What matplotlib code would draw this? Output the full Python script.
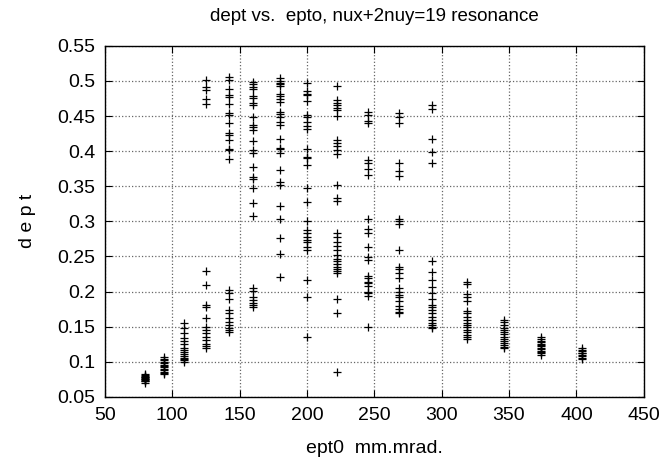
import numpy as np
import matplotlib
matplotlib.use("Agg")
import matplotlib.pyplot as plt

plt.rcParams['font.family'] = ['Liberation Sans', 'DejaVu Sans']

# ept0 columns and the dept values seen at each one
ept0 = [80, 94, 109, 125, 142, 160, 180, 200, 222, 245, 268, 293, 319, 346, 374, 404]
dept = [
    [0.070, 0.072, 0.073, 0.074, 0.075, 0.076, 0.077, 0.078, 0.079, 0.080, 0.081, 0.082],
    [0.082, 0.084, 0.086, 0.088, 0.090, 0.092, 0.094, 0.096, 0.098, 0.100, 0.102, 0.104, 0.107],
    [0.155, 0.148, 0.141, 0.134, 0.130, 0.125, 0.120, 0.117, 0.114, 0.111, 0.108, 0.106,
     0.104, 0.102, 0.100],
    [0.501, 0.491, 0.487, 0.474, 0.467,
     0.229, 0.209, 0.181, 0.178, 0.163, 0.150, 0.145, 0.141, 0.136, 0.131, 0.126, 0.122, 0.119],
    [0.505, 0.501, 0.489, 0.480, 0.477, 0.467, 0.454, 0.451, 0.440, 0.426, 0.423, 0.416,
     0.403, 0.401, 0.389,
     0.202, 0.198, 0.190, 0.174, 0.170, 0.162, 0.157, 0.152, 0.148, 0.145, 0.143],
    [0.499, 0.496, 0.492, 0.489, 0.478, 0.475, 0.468, 0.466, 0.448, 0.437, 0.435, 0.430,
     0.414, 0.401, 0.397, 0.378, 0.363, 0.360, 0.347, 0.326, 0.308,
     0.205, 0.201, 0.192, 0.188, 0.184, 0.181, 0.178],
    [0.504, 0.500, 0.497, 0.495, 0.493, 0.482, 0.479, 0.474, 0.470, 0.456, 0.453, 0.448,
     0.442, 0.437, 0.417, 0.405, 0.403, 0.397, 0.373, 0.356, 0.352, 0.322, 0.303, 0.277,
     0.254, 0.221],
    [0.497, 0.485, 0.482, 0.480, 0.472, 0.451, 0.449, 0.442, 0.436, 0.431, 0.403, 0.392,
     0.390, 0.380, 0.348, 0.327, 0.300, 0.288, 0.284, 0.278, 0.273, 0.270, 0.264, 0.259,
     0.217, 0.193, 0.135],
    [0.493, 0.473, 0.469, 0.466, 0.462, 0.458, 0.450, 0.416, 0.412, 0.407, 0.402, 0.396,
     0.352, 0.333, 0.329, 0.283, 0.278, 0.271, 0.265, 0.259, 0.252, 0.247, 0.243, 0.239,
     0.235, 0.232, 0.229, 0.226, 0.190, 0.170, 0.086],
    [0.456, 0.452, 0.443, 0.440, 0.388, 0.383, 0.375, 0.366,
     0.304, 0.289, 0.283, 0.263, 0.249, 0.245, 0.222, 0.219, 0.214, 0.212, 0.208, 0.200,
     0.198, 0.194, 0.149],
    [0.454, 0.448, 0.440, 0.383, 0.371, 0.365,
     0.304, 0.300, 0.296, 0.259, 0.235, 0.232, 0.227, 0.220, 0.205, 0.200, 0.195, 0.193,
     0.186, 0.179, 0.175, 0.171, 0.169],
    [0.465, 0.460, 0.417, 0.399, 0.383,
     0.243, 0.228, 0.217, 0.207, 0.198, 0.190, 0.181, 0.178, 0.174, 0.169, 0.164, 0.160,
     0.155, 0.152, 0.150, 0.148],
    [0.214, 0.211, 0.197, 0.193, 0.187, 0.172, 0.169, 0.164, 0.160, 0.155, 0.152, 0.150,
     0.145, 0.142, 0.138, 0.135, 0.132],
    [0.160, 0.156, 0.152, 0.148, 0.145, 0.142, 0.139, 0.136, 0.133, 0.130, 0.127, 0.124,
     0.121, 0.119],
    [0.136, 0.133, 0.130, 0.128, 0.126, 0.124, 0.122, 0.120, 0.118, 0.116, 0.114, 0.112, 0.110],
    [0.119, 0.117, 0.115, 0.113, 0.112, 0.110, 0.108, 0.106, 0.104],
]

xticks = [50, 100, 150, 200, 250, 300, 350, 400, 450]
yticks = [0.05, 0.1, 0.15, 0.2, 0.25, 0.3, 0.35, 0.4, 0.45, 0.5, 0.55]
ytick_labels = ['0.05', '0.1', '0.15', '0.2', '0.25', '0.3', '0.35', '0.4', '0.45', '0.5', '0.55']

fig = plt.figure(figsize=(6.63, 4.67), dpi=100)
ax = fig.add_axes([0.158, 0.150, 0.813, 0.752])

xs = np.concatenate([[x] * len(d) for x, d in zip(ept0, dept)])
ys = np.concatenate(dept)
ax.plot(xs, ys, linestyle='none', marker='+', color='black', markersize=5.5, markeredgewidth=0.9)

ax.set_xlim(50, 450)
ax.set_ylim(0.05, 0.55)
ax.set_xticks(xticks)
ax.set_yticks(yticks)
ax.set_xticklabels([str(t) for t in xticks])
ax.set_yticklabels(ytick_labels)
ax.tick_params(direction='in', length=5, width=0.8, top=True, right=True, labelsize=14, pad=7)
ax.grid(True, linestyle=':', color='#666666', linewidth=0.9)
for s in ax.spines.values():
    s.set_linewidth(1.0)

ax.set_title('dept vs.  epto, nux+2nuy=19 resonance', fontsize=13.5, pad=18)
ax.set_xlabel('ept0  mm.mrad.', fontsize=14, labelpad=12)
ax.set_ylabel('d e p t', fontsize=14, labelpad=15)

fig.savefig('out.png', dpi=100)
